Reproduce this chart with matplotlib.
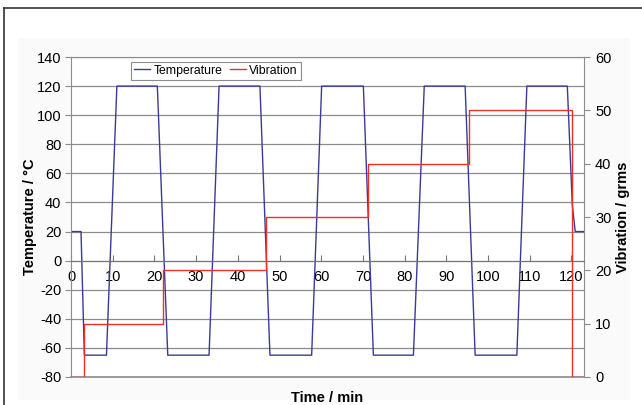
import matplotlib
matplotlib.use("Agg")
import matplotlib.pyplot as plt
from matplotlib.lines import Line2D
from matplotlib.patches import Rectangle

# temperature profile (min, degC)
time_temp = [0, 2.4, 3.2, 8.5, 11.0, 20.7, 23.2, 33.1, 35.5, 45.3, 47.7, 57.7,
             60.1, 70.1, 72.5, 82.1, 84.7, 94.5, 96.9, 106.9, 109.3, 119.0,
             120.2, 120.9, 123.0]
temperature = [20, 20, -65, -65, 120, 120, -65, -65, 120, 120, -65, -65,
               120, 120, -65, -65, 120, 120, -65, -65, 120, 120,
               38, 20, 20]

# vibration steps (min, grms)
time_vib = [0, 3.0, 22.0, 46.7, 71.1, 95.4, 120.2, 123.0]
vibration = [0, 10, 20, 30, 40, 50, 0, 0]

x_ticks = list(range(0, 121, 10))
temp_ticks = list(range(-80, 141, 20))
vib_ticks = list(range(0, 61, 10))

plt.rcParams['font.family'] = ['Liberation Sans', 'DejaVu Sans']
plt.rcParams['axes.unicode_minus'] = False

blue = '#3a3a9a'
red = '#e8302c'
grey = '#8c8c8c'

fig = plt.figure(figsize=(6.42, 4.05), dpi=100)
fig.add_artist(Rectangle((18 / 642, 5 / 405), 612 / 642, 362 / 405,
                         transform=fig.transFigure, facecolor='#fafafa',
                         edgecolor='none', zorder=0))
ax = fig.add_axes([71 / 642, 28 / 405, 513 / 642, 320 / 405])
ax.set_facecolor('white')

ax.plot(time_temp, temperature, color=blue, linewidth=1.0, label='Temperature')
ax.set_xlim(0, 123)
ax.set_ylim(-80, 140)
ax.set_yticks(temp_ticks)
ax.set_xticks(x_ticks)
ax.grid(axis='y', color=grey, linewidth=0.9)
ax.set_axisbelow(True)

for s in ['left', 'right', 'top']:
    ax.spines[s].set_color(grey)
ax.spines['bottom'].set_position(('data', 0))
ax.spines['bottom'].set_color('#777777')
ax.axhline(-80, color=grey, linewidth=1.2, clip_on=False, zorder=0)

ax.tick_params(axis='y', direction='out', length=4, color=grey, labelsize=10.5,
               pad=3)
ax.tick_params(axis='x', direction='in', length=4, color='#777777',
               labelsize=10.5, pad=7)
ax.set_ylabel('Temperature / °C', fontsize=10.5, fontweight='bold', labelpad=0)
ax.set_xlabel('Time / min', fontsize=10.5, fontweight='bold')
ax.xaxis.set_label_coords(0.5, -0.045)

ax2 = ax.twinx()
ax2.plot(time_vib, vibration, color=red, linewidth=1.0, drawstyle='steps-post',
         label='Vibration')
ax2.set_ylim(0, 60)
ax2.set_yticks(vib_ticks)
for s in ax2.spines.values():
    s.set_visible(False)
ax2.tick_params(axis='y', direction='out', length=4, color=grey, labelsize=10.5,
                pad=4)
ax2.set_ylabel('Vibration / grms', fontsize=10.5, fontweight='bold', labelpad=3)

handles = [Line2D([], [], color=blue, linewidth=1.0),
           Line2D([], [], color=red, linewidth=1.0)]
leg = ax.legend(handles, ['Temperature', 'Vibration'], ncol=2,
                loc='upper left', bbox_to_anchor=(0.105, 1.005), fontsize=8.8,
                handlelength=1.3, handletextpad=0.3, columnspacing=0.6,
                borderpad=0.25, fancybox=False, framealpha=1)
leg.get_frame().set_edgecolor(grey)
leg.get_frame().set_linewidth(0.8)

# outer chart border (only left and top edges visible)
fig.add_artist(Line2D([4 / 642, 4 / 642], [0, 397 / 405], color='#333333',
                      linewidth=1.2, transform=fig.transFigure))
fig.add_artist(Line2D([4 / 642, 1], [397 / 405, 397 / 405], color='#333333',
                      linewidth=1.2, transform=fig.transFigure))

fig.savefig('out.png', dpi=100)
